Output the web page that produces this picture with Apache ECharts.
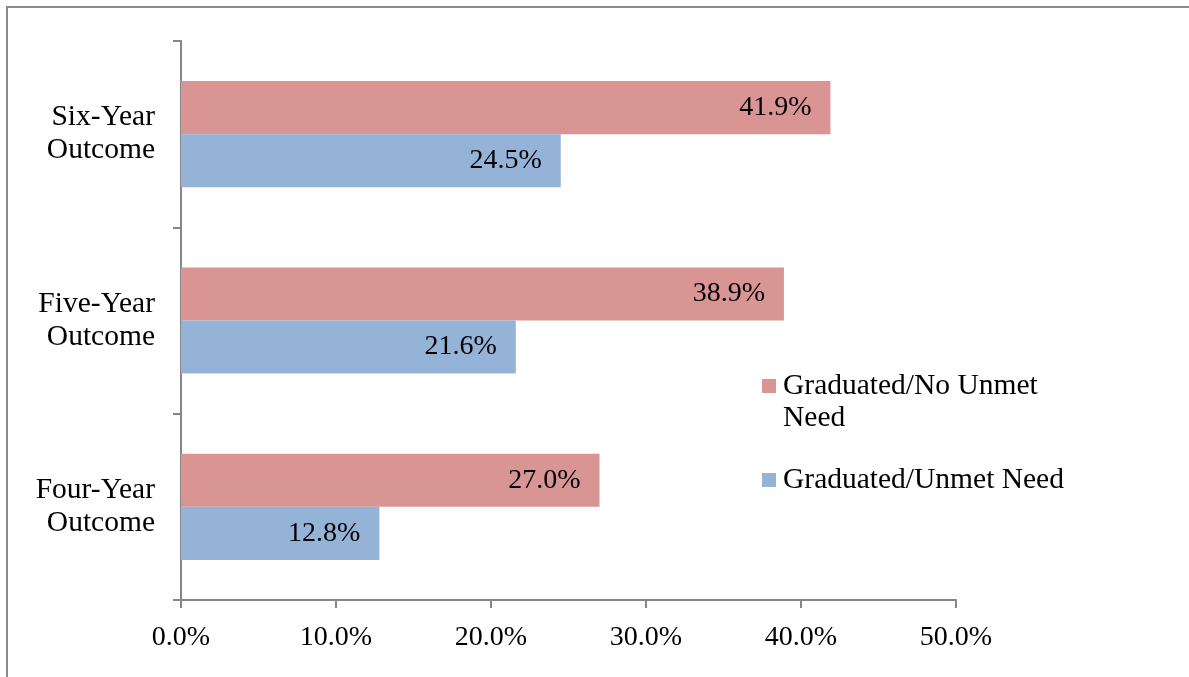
<!DOCTYPE html>
<html>
<head>
<meta charset="utf-8">
<script src="https://cdn.jsdelivr.net/npm/echarts@6/dist/echarts.min.js"></script>
<style>
  html, body { margin: 0; padding: 0; background: #fff; }
  #chart { width: 1189px; height: 677px; }
</style>
</head>
<body>
<div id="chart"></div>
<script>
const categories = ['Four-Year Outcome', 'Five-Year Outcome', 'Six-Year Outcome'];
const seriesNames = ['Graduated/No Unmet Need', 'Graduated/Unmet Need'];
const noUnmetNeed = [27.0, 38.9, 41.9];
const unmetNeed = [12.8, 21.6, 24.5];
const xTicks = [0, 10, 20, 30, 40, 50];

const FONT = '"Liberation Serif", "Times New Roman", serif';
const AXIS = '#868686';

const chart = echarts.init(document.getElementById('chart'));
const labelCfg = {
  show: true,
  position: 'insideRight',
  distance: 19,
  color: '#000',
  fontFamily: FONT,
  fontSize: 28,
  formatter: p => p.value.toFixed(1) + '%'
};
chart.setOption({
  backgroundColor: '#fff',
  animation: false,
  graphic: [{
    type: 'rect',
    shape: { x: 7, y: 7, width: 1400, height: 900 },
    style: { fill: 'none', stroke: '#8a8a8a', lineWidth: 2 },
    silent: true
  }],
  grid: { left: 181, right: 233, top: 41, bottom: 77, containLabel: false },
  legend: {
    orient: 'vertical',
    left: 762,
    top: 370,
    padding: 0,
    itemWidth: 14,
    itemHeight: 46,
    itemGap: 23,
    selectedMode: false,
    data: [
      { name: seriesNames[0], icon: 'path://M0,0h14v14h-14z M0,46' },
      { name: seriesNames[1], icon: 'path://M0,16h14v14h-14z M0,0 M0,46' }
    ],
    formatter: n => n === seriesNames[0] ? 'Graduated/No Unmet\nNeed' : n,
    textStyle: { fontFamily: FONT, fontSize: 29.5, lineHeight: 32, color: '#000', padding: [0, 0, 0, 2] }
  },
  xAxis: {
    type: 'value',
    min: xTicks[0],
    max: xTicks[xTicks.length - 1],
    interval: 10,
    splitLine: { show: false },
    axisLine: { show: true, lineStyle: { color: AXIS, width: 2 } },
    axisTick: { show: true, length: 8, lineStyle: { color: AXIS, width: 2 } },
    axisLabel: {
      margin: 24,
      color: '#000',
      fontFamily: FONT,
      fontSize: 28,
      formatter: v => v.toFixed(1) + '%'
    }
  },
  yAxis: {
    type: 'category',
    data: categories,
    axisLine: { show: true, lineStyle: { color: AXIS, width: 2 } },
    axisTick: { show: true, length: 8, lineStyle: { color: AXIS, width: 2 } },
    axisLabel: {
      margin: 26,
      color: '#000',
      fontFamily: FONT,
      fontSize: 29.5,
      lineHeight: 33,
      align: 'right',
      padding: [4, 0, 0, 0],
      formatter: v => v.replace(' ', '\n')
    }
  },
  series: [
    {
      name: seriesNames[0],
      type: 'bar',
      data: noUnmetNeed,
      barGap: '0%',
      barCategoryGap: '43%',
      itemStyle: { color: '#D99594' },
      label: labelCfg
    },
    {
      name: seriesNames[1],
      type: 'bar',
      data: unmetNeed,
      barGap: '0%',
      barCategoryGap: '43%',
      itemStyle: { color: '#95B3D7' },
      label: labelCfg
    }
  ]
});
</script>
</body>
</html>
